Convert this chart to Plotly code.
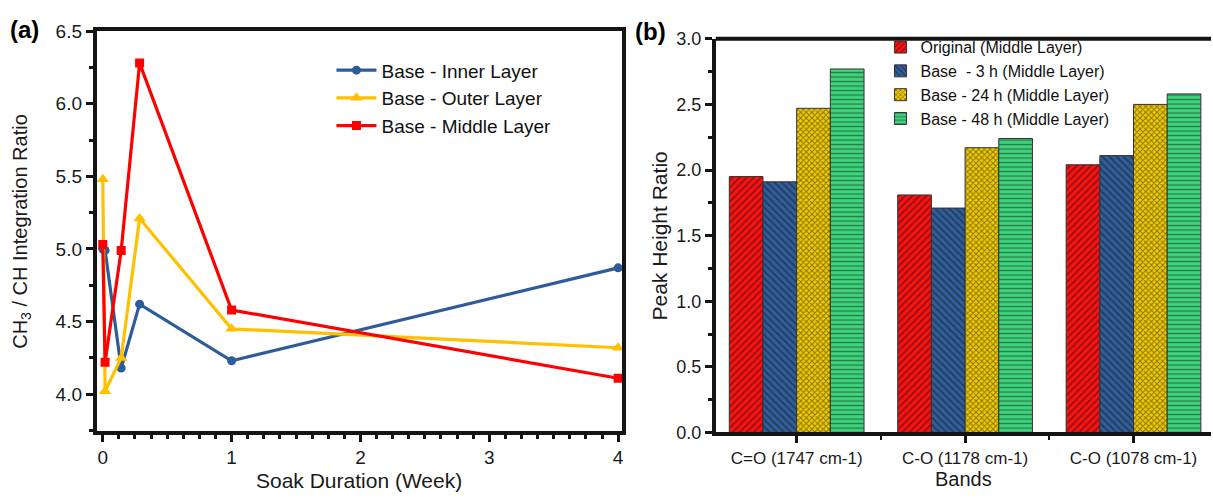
import plotly.graph_objects as go

# ---- panel (a): CH3/CH integration ratio vs soak time ----
soak_weeks = [0, 0.018, 0.143, 0.286, 1, 4]
inner_layer = [5.00, 4.99, 4.18, 4.62, 4.23, 4.87]
outer_layer = [5.48, 4.02, 4.25, 5.21, 4.45, 4.32]
middle_layer = [5.03, 4.22, 4.99, 6.28, 4.58, 4.11]

# ---- panel (b): peak height ratios per band ----
bands = ["C=O (1747 cm-1)", "C-O (1178 cm-1)", "C-O (1078 cm-1)"]
original_mid = [1.95, 1.81, 2.04]
base_3h_mid = [1.91, 1.71, 2.11]
base_24h_mid = [2.47, 2.17, 2.50]
base_48h_mid = [2.77, 2.24, 2.58]

W, H = 1213, 501
FONT = "Arial, Liberation Sans, sans-serif"
INK = "#141414"


def px_x(p):
    return p / W


def px_y(p):
    return 1 - p / H


fig = go.Figure()

line_series = [
    ("Base - Inner Layer", inner_layer, "#2E5C9A", "circle", 9),
    ("Base - Outer Layer", outer_layer, "#FFC000", "triangle-up", 11),
    ("Base - Middle Layer", middle_layer, "#FF0000", "square", 9),
]
for name, vals, col, sym, ms in line_series:
    fig.add_trace(go.Scatter(
        x=soak_weeks, y=vals, name=name, mode="lines+markers",
        line=dict(color=col, width=3.2),
        marker=dict(symbol=sym, size=ms, color=col),
        xaxis="x", yaxis="y", legend="legend",
    ))

bar_series = [
    ("Original (Middle Layer)", original_mid, "#FF1010", "/", 5, 0.35),
    ("Base  - 3 h (Middle Layer)", base_3h_mid, "#2F5E9C", "\\", 5, 0.35),
    ("Base - 24 h (Middle Layer)", base_24h_mid, "#F2CC00", "x", 4, 0.45),
    ("Base - 48 h (Middle Layer)", base_48h_mid, "#3DD67C", "-", 4.5, 0.3),
]
for name, vals, col, shape, size, sol in bar_series:
    fig.add_trace(go.Bar(
        x=list(range(len(bands))), y=vals, name=name,
        marker=dict(
            color=col,
            line=dict(color="#333333", width=1),
            pattern=dict(shape=shape, size=size, solidity=sol,
                         fgcolor="#1a1a1a", bgcolor=col, fillmode="overlay"),
        ),
        xaxis="x2", yaxis="y2", legend="legend2",
    ))

axis_common = dict(
    showline=True, linecolor=INK, linewidth=4,
    ticks="outside", ticklen=7, tickwidth=3, tickcolor=INK,
    showgrid=False, zeroline=False,
)
minor_y = dict(dtick=0.25, ticks="outside", ticklen=4, tickwidth=3, tickcolor=INK)

fig.update_layout(
    width=W, height=H,
    margin=dict(l=0, r=0, t=0, b=0),
    paper_bgcolor="white", plot_bgcolor="white",
    font=dict(family=FONT, color="#1a1a1a"),
    barmode="group", bargap=0.2, bargroupgap=0,
    xaxis=dict(
        **axis_common, domain=[px_x(97), px_x(623)], range=[-0.046, 4.03],
        tickvals=[0, 1, 2, 3, 4], mirror=True,
        tickfont=dict(size=19, family=FONT), anchor="y",
        minor=dict(dtick=0.125, ticks="outside", ticklen=4, tickwidth=3, tickcolor=INK),
    ),
    yaxis=dict(
        **axis_common, domain=[px_y(438), px_y(22)], range=[3.75, 6.5],
        tickvals=[4.0, 4.5, 5.0, 5.5, 6.0, 6.5], tickformat=".1f", mirror=True,
        tickfont=dict(size=19, family=FONT), anchor="x", minor=minor_y,
    ),
    xaxis2=dict(
        **axis_common, domain=[px_x(717), 1.0], range=[-0.48, 2.46],
        tickvals=list(range(len(bands))), ticktext=bands, mirror=False,
        tickfont=dict(size=17, family=FONT), anchor="y2",
        minor=dict(tickvals=[0.5, 1.5], ticks="outside", ticklen=4, tickwidth=2, tickcolor=INK),
    ),
    yaxis2=dict(
        **axis_common, domain=[px_y(440), px_y(30)], range=[0, 3.0],
        tickvals=[0, 0.5, 1.0, 1.5, 2.0, 2.5, 3.0], tickformat=".1f",
        tickfont=dict(size=18, family=FONT), anchor="x2", minor=minor_y,
    ),
    legend=dict(
        x=px_x(332), y=px_y(43), xanchor="left", yanchor="top",
        font=dict(size=19, family=FONT, color="#111111"),
        bgcolor="rgba(0,0,0,0)", itemwidth=40,
    ),
    legend2=dict(
        x=px_x(882), y=px_y(21), xanchor="left", yanchor="top",
        font=dict(size=16, family=FONT, color="#111111"),
        bgcolor="rgba(0,0,0,0)",
    ),
)

# top border of panel (b); its right end runs off the figure
top_b = px_y(30)
fig.add_shape(type="line", xref="paper", yref="paper",
              x0=px_x(717), x1=1.0, y0=top_b, y1=top_b, line=dict(color=INK, width=4))

annotations = [
    dict(text="<b>(a)</b>", x=px_x(8), y=px_y(20), font=dict(size=24, family=FONT, color="black"),
         xanchor="left", yanchor="middle"),
    dict(text="<b>(b)</b>", x=px_x(634), y=px_y(22), font=dict(size=24, family=FONT, color="black"),
         xanchor="left", yanchor="middle"),
    dict(text="CH<sub>3</sub> / CH Integration Ratio", x=px_x(22), y=px_y(230), textangle=-90,
         font=dict(size=20, family=FONT), xanchor="center", yanchor="middle"),
    dict(text="Soak Duration (Week)", x=px_x(360), y=px_y(490),
         font=dict(size=21, family=FONT), xanchor="center", yanchor="middle"),
    dict(text="Peak Height Ratio", x=px_x(661), y=px_y(235), textangle=-90,
         font=dict(size=21, family=FONT), xanchor="center", yanchor="middle"),
    dict(text="Bands", x=px_x(965), y=px_y(489),
         font=dict(size=20, family=FONT), xanchor="center", yanchor="middle"),
]
for a in annotations:
    fig.add_annotation(xref="paper", yref="paper", showarrow=False, **a)

fig.write_html("out.html")
